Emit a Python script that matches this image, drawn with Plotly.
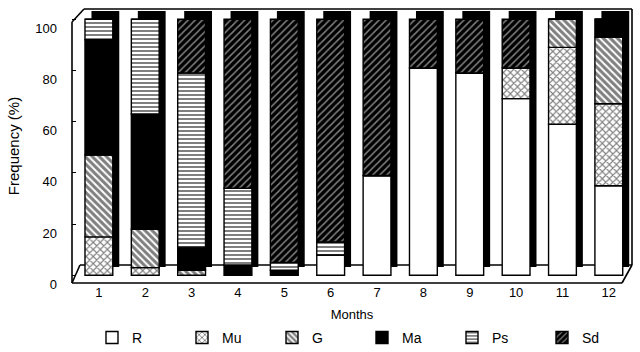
import numpy as np
import plotly.graph_objects as go

# Monthly composition (%) of the six groups
months = [str(m) for m in range(1, 13)]
R  = [0, 0, 0, 0, 0, 8, 39, 81, 79, 69, 59, 35]
Mu = [15, 3, 0, 0, 0, 0, 0, 0, 0, 12, 30, 32]
G  = [32, 15, 2, 0, 0, 0, 0, 0, 0, 0, 11, 26]
Ma = [45, 45, 9, 4, 2, 0, 0, 0, 0, 0, 0, 7]
Ps = [8, 37, 68, 30, 3, 5, 0, 0, 0, 0, 0, 0]
Sd = [0, 0, 21, 66, 95, 87, 61, 19, 21, 19, 0, 0]

series_names = ["R", "Mu", "G", "Ma", "Ps", "Sd"]
series_values = [R, Mu, G, Ma, Ps, Sd]

# fill style per series: (shape, foreground, background, solidity, size)
styles = {
    "R":  ("", "black", "white", 0.0, 6),
    "Mu": ("x", "black", "white", 0.4, 5),
    "G":  ("\\", "black", "white", 0.6, 5),
    "Ma": ("", "black", "black", 0.0, 6),
    "Ps": ("-", "black", "white", 0.5, 4),
    "Sd": ("/", "white", "black", 0.3, 5),
}

BAR_W = 0.6
FONT = "Liberation Sans, Arial, sans-serif"

fig = go.Figure()

# dark depth faces behind every column
totals = np.sum(np.array(series_values), axis=0)
fig.add_trace(go.Bar(
    x=months, y=totals, base=3.2, width=BAR_W, offset=-BAR_W / 2 + 0.14,
    marker=dict(color="black", line=dict(width=0)),
    showlegend=False, hoverinfo="skip",
))

# stacked front faces
cum = np.zeros(len(months))
for name, vals in zip(series_names, series_values):
    shape, fg, bg, sol, size = styles[name]
    pattern = dict(shape=shape, fgcolor=fg, bgcolor=bg, solidity=sol,
                   size=size, fillmode="overlay") if shape else dict(shape="")
    fig.add_trace(go.Bar(
        x=months, y=vals, base=cum.copy(), name=name,
        width=BAR_W, offset=-BAR_W / 2,
        marker=dict(color=bg, pattern=pattern, line=dict(color="black", width=1.4)),
    ))
    cum += np.array(vals)

# box outline: back wall, floor and left axis
px_x = lambda p: (p - 72) / 560
px_y = lambda p: (283 - p) / 274
lines = [
    ((84, 9), (632, 9)),
    ((72, 22), (84, 9)),
    ((80, 265), (632, 265)),
    ((72, 283), (80, 265)),
    ((72, 283), (622, 283)),
    ((622, 283), (632, 265)),
    ((632, 265), (632, 9)),
    ((72, 283), (72, 22)),
]
shapes = []
for (x0, y0), (x1, y1) in lines:
    shapes.append(dict(type="line", xref="paper", yref="paper",
                       x0=px_x(x0), y0=px_y(y0), x1=px_x(x1), y1=px_y(y1),
                       line=dict(color="black", width=1.6), layer="below"))

fig.update_layout(
    width=640, height=352,
    margin=dict(l=72, r=8, t=9, b=69, autoexpand=False),
    barmode="overlay",
    plot_bgcolor="white", paper_bgcolor="white",
    font=dict(family=FONT, size=13, color="black"),
    shapes=shapes,
    showlegend=True,
    legend=dict(orientation="h", xref="container", yref="container",
                x=92 / 640, y=0.04, xanchor="left", yanchor="middle",
                entrywidth=45, entrywidthmode="pixels", font=dict(size=14),
                bgcolor="rgba(0,0,0,0)", traceorder="normal", itemclick=False),
    xaxis=dict(type="category", range=[-0.58, 11.5], showgrid=False, zeroline=False,
               showline=False, ticks="", tickfont=dict(size=13), automargin=False,
               title=dict(text="Months", font=dict(size=13), standoff=12)),
    yaxis=dict(range=[-3, 104], showgrid=False, zeroline=False, showline=False,
               tickvals=[0, 20, 40, 60, 80, 100], ticks="inside", ticklen=4,
               tickcolor="black", tickfont=dict(size=13), automargin=False,
               ticklabelstandoff=14, ticklabelshift=9,
               title=dict(text="Frequency (%)", font=dict(size=15), standoff=12)),
)

fig.write_html("out.html")
